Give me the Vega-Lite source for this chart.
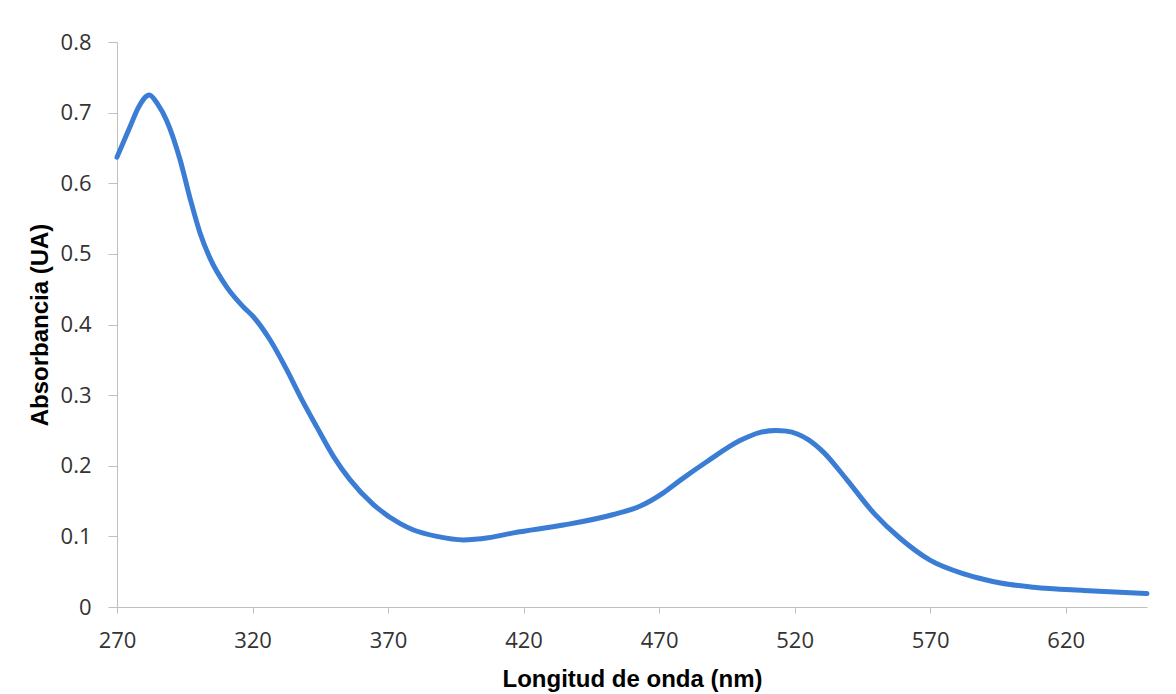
{
  "$schema": "https://vega.github.io/schema/vega-lite/v6.json",
  "width": 1030,
  "height": 565,
  "autosize": {"type": "none"},
  "padding": {"left": 117, "top": 42, "right": 29, "bottom": 87},
  "background": "white",
  "config": {"view": {"stroke": null}},
  "data": {
    "values": [
      {"nm": 270, "abs": 0.637},
      {"nm": 274.8, "abs": 0.680},
      {"nm": 278, "abs": 0.708},
      {"nm": 281.9, "abs": 0.725},
      {"nm": 285, "abs": 0.712},
      {"nm": 288.3, "abs": 0.689},
      {"nm": 293.3, "abs": 0.633},
      {"nm": 297, "abs": 0.578},
      {"nm": 300.6, "abs": 0.530},
      {"nm": 304.3, "abs": 0.494},
      {"nm": 310.5, "abs": 0.453},
      {"nm": 316.6, "abs": 0.425},
      {"nm": 320.3, "abs": 0.411},
      {"nm": 326.5, "abs": 0.378},
      {"nm": 332.6, "abs": 0.336},
      {"nm": 337.6, "abs": 0.298},
      {"nm": 343.7, "abs": 0.255},
      {"nm": 349.9, "abs": 0.213},
      {"nm": 356, "abs": 0.180},
      {"nm": 364.6, "abs": 0.145},
      {"nm": 374.5, "abs": 0.118},
      {"nm": 379.4, "abs": 0.109},
      {"nm": 388, "abs": 0.100},
      {"nm": 397.8, "abs": 0.095},
      {"nm": 407, "abs": 0.098},
      {"nm": 416.3, "abs": 0.105},
      {"nm": 434.7, "abs": 0.116},
      {"nm": 453.2, "abs": 0.131},
      {"nm": 463.1, "abs": 0.143},
      {"nm": 471.7, "abs": 0.162},
      {"nm": 478, "abs": 0.180},
      {"nm": 487.7, "abs": 0.206},
      {"nm": 500, "abs": 0.236},
      {"nm": 507, "abs": 0.247},
      {"nm": 513, "abs": 0.250},
      {"nm": 517, "abs": 0.249},
      {"nm": 521, "abs": 0.245},
      {"nm": 525, "abs": 0.237},
      {"nm": 530.7, "abs": 0.219},
      {"nm": 539.3, "abs": 0.180},
      {"nm": 549.2, "abs": 0.133},
      {"nm": 559, "abs": 0.097},
      {"nm": 570.1, "abs": 0.066},
      {"nm": 582.4, "abs": 0.047},
      {"nm": 590, "abs": 0.039},
      {"nm": 596, "abs": 0.034},
      {"nm": 608.2, "abs": 0.028},
      {"nm": 626.7, "abs": 0.0235},
      {"nm": 640, "abs": 0.021},
      {"nm": 650, "abs": 0.019}
    ]
  },
  "mark": {"type": "line", "color": "#3B7DD4", "strokeWidth": 5, "interpolate": "monotone", "strokeCap": "round"},
  "encoding": {
    "x": {
      "field": "nm",
      "type": "quantitative",
      "title": "Longitud de onda (nm)",
      "scale": {"domain": [270, 650], "nice": false, "zero": false},
      "axis": {
        "values": [270, 320, 370, 420, 470, 520, 570, 620],
        "grid": false,
        "domainColor": "#BFBFBF",
        "tickColor": "#BFBFBF",
        "tickSize": 6,
        "labelPadding": 17,
        "labelFont": "Open Sans",
        "labelFontSize": 22,
        "labelColor": "#333333",
        "labelFlush": false,
        "titleFont": "Liberation Sans",
        "titleFontSize": 24,
        "titleFontWeight": "bold",
        "titleColor": "#000000",
        "titlePadding": 16
      }
    },
    "y": {
      "field": "abs",
      "type": "quantitative",
      "title": "Absorbancia (UA)",
      "scale": {"domain": [0, 0.8], "nice": false},
      "axis": {
        "values": [0, 0.1, 0.2, 0.3, 0.4, 0.5, 0.6, 0.7, 0.8],
        "format": "~g",
        "grid": false,
        "domainColor": "#BFBFBF",
        "tickColor": "#BFBFBF",
        "tickSize": 9,
        "labelPadding": 17,
        "labelFont": "Open Sans",
        "labelFontSize": 22,
        "labelColor": "#333333",
        "labelFlush": false,
        "titleFont": "Liberation Sans",
        "titleFontSize": 24,
        "titleFontWeight": "bold",
        "titleColor": "#000000",
        "titlePadding": 8
      }
    }
  }
}
